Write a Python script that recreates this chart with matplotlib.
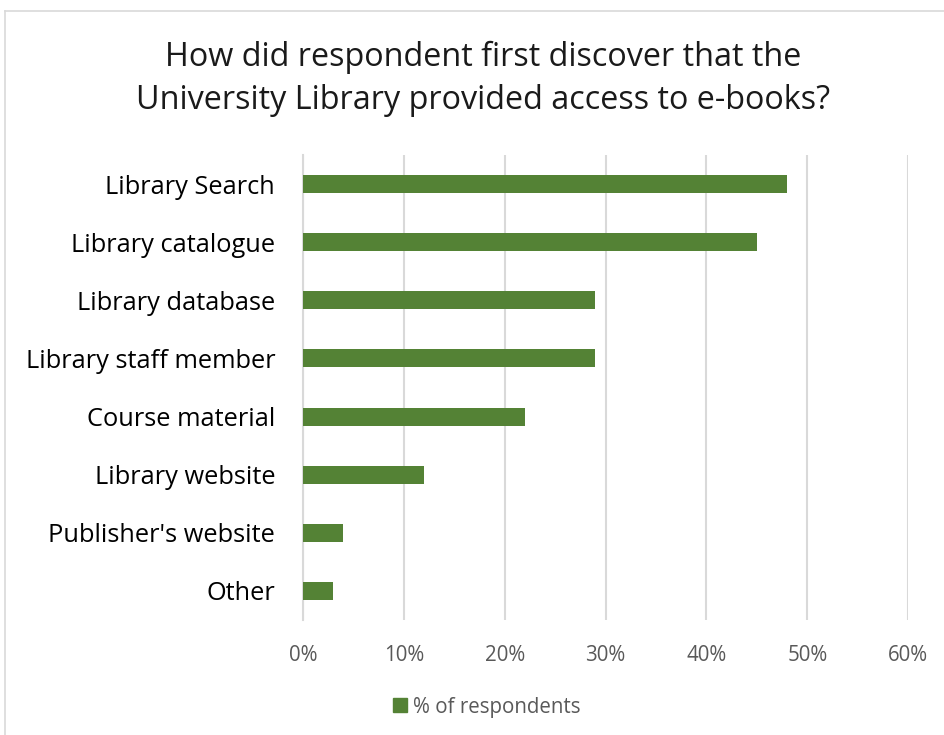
import matplotlib
matplotlib.use("Agg")
import matplotlib.pyplot as plt
from matplotlib.patches import Rectangle
from matplotlib.ticker import FuncFormatter

categories = ["Library Search", "Library catalogue", "Library database",
              "Library staff member", "Course material", "Library website",
              "Publisher's website", "Other"]
values = [48, 45, 29, 29, 22, 12, 4, 3]
x_ticks = [0, 10, 20, 30, 40, 50, 60]
series_name = "% of respondents"
title = "How did respondent first discover that the\nUniversity Library provided access to e-books?"

green = "#548235"
grid_col = "#d9d9d9"
text_col = "#595959"

plt.rcParams['font.family'] = ['Open Sans', 'DejaVu Sans']

fig = plt.figure(figsize=(9.44, 7.35), dpi=100)
ax = fig.add_axes([0.321, 0.1565, 0.641, 0.6325])

y = list(range(len(categories)))
ax.barh(y, values, height=0.31, color=green, zorder=3)
ax.set_ylim(len(categories) - 0.5, -0.5)
ax.set_xlim(0, 60)
ax.set_xticks(x_ticks)
ax.xaxis.set_major_formatter(FuncFormatter(lambda v, p: f"{v:.0f}%"))
ax.set_yticks(y)
ax.set_yticklabels(categories, fontsize=18.3, color="black")
ax.tick_params(axis='x', labelsize=14.8, colors=text_col, length=0, pad=18)
ax.tick_params(axis='y', length=0, pad=20)
ax.grid(axis='x', color=grid_col, linewidth=1.5, zorder=0)
for s in ['top', 'right', 'bottom']:
    ax.spines[s].set_visible(False)
ax.spines['left'].set_color(grid_col)
ax.spines['left'].set_linewidth(1.5)

fig.text(0.512, 0.892, title, ha='center', va='center', fontsize=23.3,
         color="#1a1a1a", linespacing=1.4)

# legend
fig.patches.append(Rectangle((393 / 944, 1 - 712 / 735), 14 / 944, 14 / 735,
                             transform=fig.transFigure, color=green))
fig.text(413 / 944, 1 - 707 / 735, series_name, ha='left', va='center',
         fontsize=14.8, color=text_col)

# chart border
fig.add_artist(plt.Line2D([5 / 944, 5 / 944], [0, 1 - 11 / 735],
                          transform=fig.transFigure, color=grid_col, lw=1.2))
fig.add_artist(plt.Line2D([5 / 944, 1], [1 - 11 / 735, 1 - 11 / 735],
                          transform=fig.transFigure, color=grid_col, lw=1.2))

fig.savefig("out.png", dpi=100)
